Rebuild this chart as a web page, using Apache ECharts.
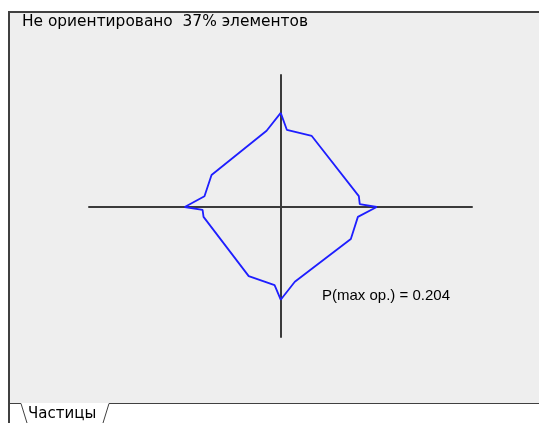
<!DOCTYPE html>
<html>
<head>
<meta charset="utf-8">
<script src="https://cdn.jsdelivr.net/npm/echarts@6/dist/echarts.min.js"></script>
<style>
  html, body { margin: 0; padding: 0; background: #fff; }
  #chart { width: 539px; height: 423px; }
</style>
</head>
<body>
<div id="chart"></div>
<script>
// orientation diagram, values in P units (clockwise from top, closed)
const pointX = [0, 0.013, 0.066, 0.166, 0.168, 0.204, 0.164, 0.149, 0.030, 0, -0.013, -0.068, -0.164, -0.166, -0.204, -0.162, -0.147, -0.030, 0]
const pointY = [0.200, 0.164, 0.151, 0.023, 0.006, 0, -0.021, -0.068, -0.159, -0.197, -0.166, -0.147, -0.021, -0.006, 0, 0.023, 0.068, 0.162, 0.200]
const titleText = 'Не ориентировано  37% элементов'
const probText = 'P(max op.) = 0.204'
const tabText = 'Частицы'

const chart = echarts.init(document.getElementById('chart'))

const lineData = pointX.map((x, i) => [x, pointY[i]])

const option = {
  animation: false,
  backgroundColor: '#ffffff',
  grid: { left: 89, right: 67, top: 75, bottom: 86 },
  xAxis: {
    type: 'value',
    min: -0.4074,
    max: 0.4065,
    axisLine: { onZero: true, lineStyle: { color: '#3a3a3a', width: 2 } },
    axisTick: { show: false },
    axisLabel: { show: false },
    splitLine: { show: false }
  },
  yAxis: {
    type: 'value',
    min: -0.2763,
    max: 0.2805,
    axisLine: { onZero: true, lineStyle: { color: '#3a3a3a', width: 2 } },
    axisTick: { show: false },
    axisLabel: { show: false },
    splitLine: { show: false }
  },
  graphic: [
    // panel background
    { type: 'rect', z: -10, silent: true, shape: { x: 8, y: 11, width: 531, height: 392 }, style: { fill: '#eeeeee' } },
    { type: 'line', z: 10, silent: true, shape: { x1: 8, y1: 12, x2: 539, y2: 12 }, style: { stroke: '#404040', lineWidth: 2 } },
    { type: 'line', z: 10, silent: true, shape: { x1: 9, y1: 11, x2: 9, y2: 423 }, style: { stroke: '#404040', lineWidth: 2 } },
    // tab
    {
      type: 'polyline', z: 10, silent: true,
      shape: { points: [[10, 403.5], [21, 403.5], [27, 423]] },
      style: { stroke: '#404040', lineWidth: 1, fill: null }
    },
    {
      type: 'polyline', z: 10, silent: true,
      shape: { points: [[103, 423], [109, 403.5], [539, 403.5]] },
      style: { stroke: '#404040', lineWidth: 1, fill: null }
    },
    {
      type: 'text', z: 10, silent: true,
      style: { x: 28, y: 414, text: tabText, fill: '#000', font: '15px "DejaVu Sans"', verticalAlign: 'middle' }
    },
    // texts
    {
      type: 'text', z: 10, silent: true,
      style: { x: 22, y: 22, text: titleText, fill: '#000', font: '15.4px "DejaVu Sans"', verticalAlign: 'middle' }
    },
    {
      type: 'text', z: 10, silent: true,
      style: { x: 322, y: 296, text: probText, fill: '#000', font: '15px "Liberation Sans"', verticalAlign: 'middle' }
    }
  ],
  series: [
    {
      type: 'line',
      data: lineData,
      symbol: 'none',
      z: 5,
      lineStyle: { color: '#1e1eff', width: 1.8 }
    }
  ]
}

chart.setOption(option)
</script>
</body>
</html>
